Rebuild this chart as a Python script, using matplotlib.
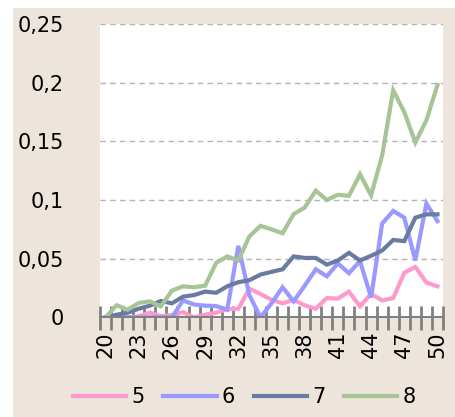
import numpy as np
import matplotlib
matplotlib.use("Agg")
import matplotlib.pyplot as plt
from matplotlib.patches import Rectangle
from matplotlib.ticker import FuncFormatter

# x categories
years = list(range(20, 51))

# series values
s5 = [0, 0, 0, 0.001, 0.004, 0.001, 0.002, 0.0045, 0, 0.0023, 0.004, 0.007, 0.0074,
      0.0245, 0.020, 0.015, 0.012, 0.015, 0.0103, 0.0074, 0.0165, 0.016, 0.022, 0.0094,
      0.020, 0.0145, 0.0165, 0.038, 0.043, 0.0297, 0.0265]
s6 = [0, 0, 0, 0, 0, 0, 0, 0.0145, 0.011, 0.010, 0.0097, 0.0066, 0.061, 0.019, 0,
      0.012, 0.0257, 0.0137, 0.027, 0.041, 0.035, 0.046, 0.0377, 0.048, 0.017, 0.080,
      0.0907, 0.085, 0.0485, 0.097, 0.082]
s7 = [0, 0.0023, 0.004, 0.0074, 0.010, 0.014, 0.012, 0.0177, 0.019, 0.022, 0.021,
      0.0265, 0.030, 0.0317, 0.0365, 0.0388, 0.041, 0.052, 0.0507, 0.0507, 0.045,
      0.0485, 0.055, 0.0485, 0.0525, 0.057, 0.066, 0.065, 0.085, 0.0878, 0.0878]
s8 = [0, 0.0103, 0.0066, 0.0123, 0.0137, 0.0094, 0.0228, 0.0265, 0.0257, 0.027,
      0.0465, 0.052, 0.0485, 0.069, 0.078, 0.075, 0.0717, 0.088, 0.0936, 0.108, 0.100,
      0.1045, 0.1036, 0.122, 0.104, 0.138, 0.1935, 0.175, 0.149, 0.168, 0.198]

labels = ["5", "6", "7", "8"]
colors = ["#FF99CC", "#9999FF", "#6A7BA2", "#A6C496"]

beige = "#EDE5DC"

fig = plt.figure(figsize=(4.55, 4.17), dpi=100, facecolor="white")
fig.patches.append(Rectangle((13 / 455, 0), 1 - 13 / 455, 1 - 8 / 417,
                             transform=fig.transFigure, facecolor=beige,
                             edgecolor="none", zorder=-10))

ax = fig.add_axes([100 / 455, 1 - 318 / 417, 343 / 455, 294 / 417])
ax.set_facecolor("white")

x = np.arange(len(years))
for vals, lab, col in zip([s5, s6, s7, s8], labels, colors):
    ax.plot(x, vals, color=col, lw=3, label=lab, solid_joinstyle="miter")

ax.set_xlim(-0.5, len(years) - 0.5)
ax.set_ylim(-0.0005, 0.25)
for v in [0.05, 0.1, 0.15, 0.2, 0.25]:
    ax.axhline(v, color="#b4b4b4", lw=1, ls=(0, (4, 3)), zorder=0)
ax.axhline(0, color="#808080", lw=2.2, zorder=5)

for s in ax.spines.values():
    s.set_visible(False)

ax.set_yticks([0, 0.05, 0.1, 0.15, 0.2, 0.25])
ax.yaxis.set_major_formatter(FuncFormatter(lambda v, p: f"{v:g}".replace(".", ",")))
ax.tick_params(axis="y", length=0, labelsize=15, pad=26)

# category boundaries as ticks, labels every third category
ax.set_xticks(np.arange(-0.5, len(years), 1.0))
ax.set_xticklabels([])
ax.tick_params(axis="x", which="major", direction="inout", length=17, width=2,
               color="#808080")
ax.set_xticks(x[::3], minor=True)
ax.set_xticklabels([str(y) for y in years[::3]], minor=True, rotation=90)
ax.tick_params(axis="x", which="minor", length=0, labelsize=15, pad=10)

fig.legend(loc="center", bbox_to_anchor=(0.537, 0.048), ncol=4, frameon=False,
           fontsize=15, handlelength=2.55, handletextpad=0.25, columnspacing=0.9)

fig.savefig("out.png", dpi=100, facecolor=fig.get_facecolor())
